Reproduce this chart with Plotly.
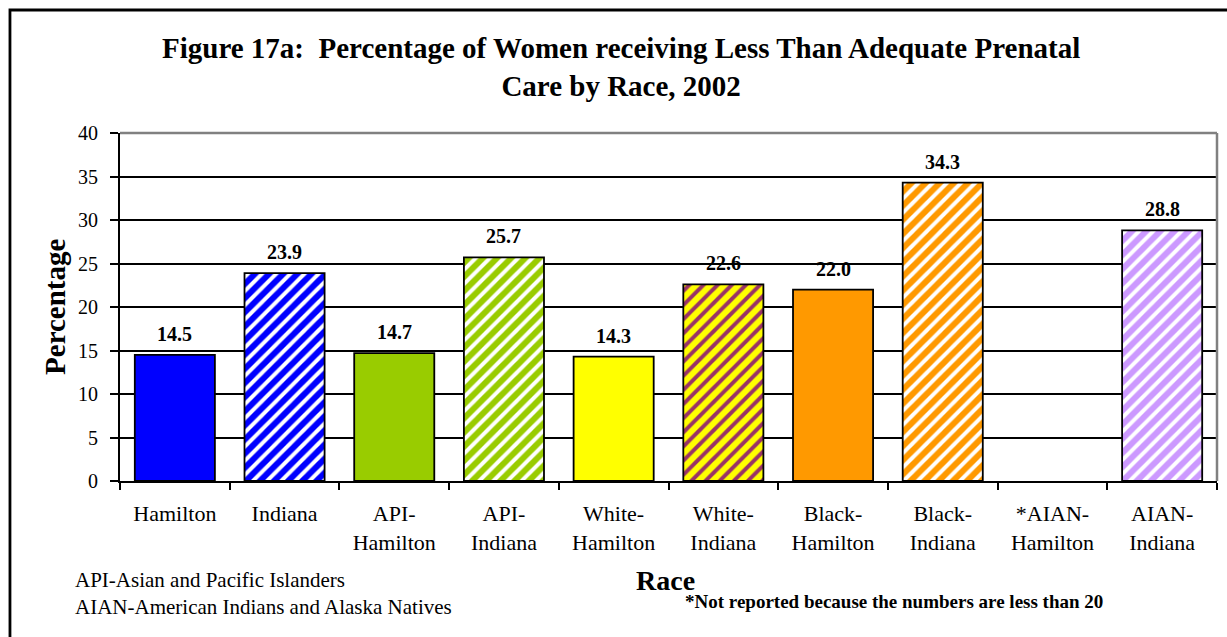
import plotly.graph_objects as go

categories = ["Hamilton", "Indiana", "API-<br>Hamilton", "API-<br>Indiana", "White-<br>Hamilton",
              "White-<br>Indiana", "Black-<br>Hamilton", "Black-<br>Indiana", "*AIAN-<br>Hamilton", "AIAN-<br>Indiana"]
values = [14.5, 23.9, 14.7, 25.7, 14.3, 22.6, 22.0, 34.3, None, 28.8]
base_colors = ["#0000FF", "#0000FF", "#99CC00", "#99CC00", "#FFFF00", "#FFFF00", "#FF9900", "#FF9900", "#FFFFFF", "#CC99FF"]
stripe_colors = ["#FFFFFF", "#FFFFFF", "#FFFFFF", "#FFFFFF", "#FFFFFF", "#993366", "#FFFFFF", "#FFFFFF", "#FFFFFF", "#FFFFFF"]
shapes_pat = ["", "/", "", "/", "", "/", "", "/", "", "/"]
y_ticks = [0, 5, 10, 15, 20, 25, 30, 35, 40]

FONT = "Liberation Serif"

fig = go.Figure()
for c, v, bc, sc, sp in zip(categories, values, base_colors, stripe_colors, shapes_pat):
    pattern = dict(shape=sp, fgcolor=sc, bgcolor=bc, size=10, solidity=0.4, fillmode="replace") if sp else dict(shape="")
    fig.add_trace(go.Bar(
        x=[c], y=[v], width=0.73,
        marker=dict(color=bc, line=dict(color="black", width=1.8), pattern=pattern),
        hoverinfo="skip",
    ))

annotations = []
for c, v in zip(categories, values):
    if v is None:
        continue
    annotations.append(dict(x=c, y=v, xref="x", yref="y", text=f"<b>{v:.1f}</b>", showarrow=False,
                            yanchor="middle", yshift=21, font=dict(family=FONT, size=20, color="black")))

annotations += [
    dict(x=0.457, y=1.0, xref="paper", yref="paper", xanchor="center", yanchor="bottom", yshift=29,
         text="<b>Figure 17a:  Percentage of Women receiving Less Than Adequate Prenatal<br>Care by Race, 2002</b>",
         showarrow=False, font=dict(family=FONT, size=29, color="black")),
    dict(x=-0.0593, y=0.5, xref="paper", yref="paper", xanchor="center", yanchor="middle",
         text="<b>Percentage</b>", textangle=-90,
         showarrow=False, font=dict(family=FONT, size=29, color="black")),
    dict(x=0.4977, y=-0.2845, xref="paper", yref="paper", xanchor="center", yanchor="middle", text="<b>Race</b>",
         showarrow=False, font=dict(family=FONT, size=28, color="black")),
    dict(x=-0.0428, y=-0.2845, xref="paper", yref="paper", xanchor="left", yanchor="middle",
         text="API-Asian and Pacific Islanders",
         showarrow=False, font=dict(family=FONT, size=21, color="black")),
    dict(x=-0.0428, y=-0.362, xref="paper", yref="paper", xanchor="left", yanchor="middle",
         text="AIAN-American Indians and Alaska Natives",
         showarrow=False, font=dict(family=FONT, size=21, color="black")),
    dict(x=0.7056, y=-0.3477, xref="paper", yref="paper", xanchor="center", yanchor="middle",
         text="<b>*Not reported because the numbers are less than 20</b>",
         showarrow=False, font=dict(family=FONT, size=19, color="black")),
]

shapes = [
    dict(type="line", xref="paper", yref="paper", x0=0, x1=1, y0=1, y1=1, line=dict(color="#808080", width=2.5), layer="above"),
    dict(type="line", xref="paper", yref="paper", x0=1, x1=1, y0=0, y1=1, line=dict(color="#808080", width=2.5), layer="above"),
    dict(type="rect", xref="paper", yref="paper", x0=-0.1003, x1=1.03, y0=-0.5, y1=1.3534,
         line=dict(color="black", width=2.8), fillcolor="rgba(0,0,0,0)", layer="above"),
]

fig.update_layout(
    width=1227, height=637,
    margin=dict(l=120, r=10, t=133, b=156),
    paper_bgcolor="white", plot_bgcolor="white",
    showlegend=False, barmode="overlay",
    annotations=annotations, shapes=shapes,
    font=dict(family=FONT, color="black"),
)
fig.update_xaxes(categoryorder="array", categoryarray=categories,
                 showline=True, linecolor="black", linewidth=2, ticks="outside", tickson="boundaries",
                 ticklen=7, tickwidth=2, tickcolor="black", showgrid=False, ticklabelstandoff=12,
                 tickfont=dict(family=FONT, size=22, color="black"), fixedrange=True)
fig.update_yaxes(range=[0, 40], tickvals=y_ticks, showline=True, linecolor="black", linewidth=2,
                 ticks="outside", ticklen=8, tickwidth=2, tickcolor="black", ticklabelstandoff=8,
                 showgrid=True, gridcolor="black", gridwidth=1.5, zeroline=False,
                 tickfont=dict(family=FONT, size=20, color="black"), fixedrange=True)

fig.write_html("out.html", config={"displayModeBar": False},
               post_script="document.body.style.margin='0';document.body.style.overflow='hidden';")
